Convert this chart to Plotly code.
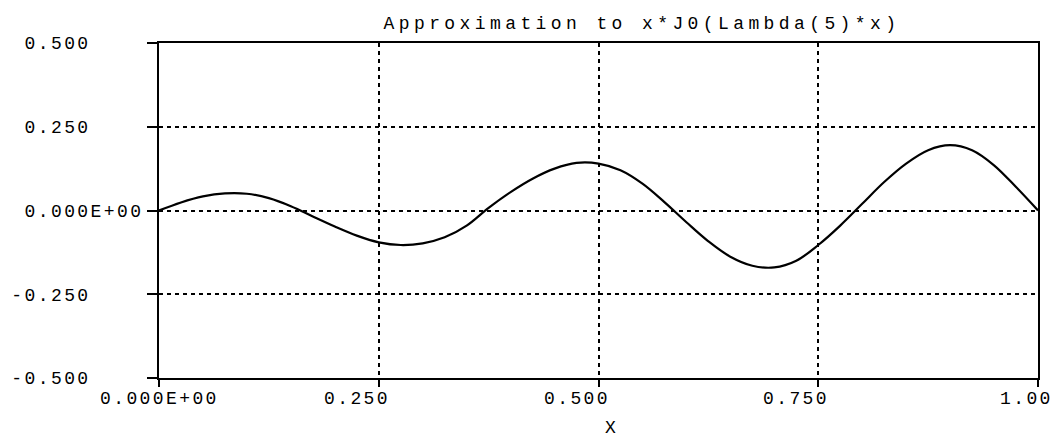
import plotly.graph_objects as go

NB = "\u00a0"

x_vals = [0, 0.025, 0.05, 0.075, 0.1, 0.125, 0.15, 0.175, 0.2, 0.225, 0.25,
          0.275, 0.3, 0.325, 0.35, 0.375, 0.4, 0.425, 0.45, 0.475, 0.5,
          0.525, 0.55, 0.575, 0.6, 0.625, 0.65, 0.675, 0.7, 0.725, 0.75,
          0.775, 0.8, 0.825, 0.85, 0.875, 0.9, 0.925, 0.95, 0.975, 1.0]
y_vals = [0, 0.024, 0.042, 0.051, 0.050, 0.037, 0.013, -0.018, -0.048, -0.075, -0.095,
          -0.103, -0.098, -0.080, -0.045, 0.008, 0.055, 0.095, 0.125, 0.142, 0.140,
          0.120, 0.080, 0.025, -0.035, -0.092, -0.138, -0.165, -0.170, -0.150, -0.103,
          -0.045, 0.020, 0.085, 0.140, 0.180, 0.195, 0.180, 0.135, 0.070, 0.0]

x_ticks = [0, 0.25, 0.5, 0.75, 1.0]
x_tick_labels = ["0.000E+00", "0.250", "0.500", "0.750", "1.00"]
y_ticks = [-0.5, -0.25, 0, 0.25, 0.5]
y_tick_labels = ["-0.500", "-0.250", "0.000E+00", "0.250", "0.500"]
title_text = "Approximation to x*J0(Lambda(5)*x)"
x_title = "X"

FONT = "Liberation Mono"
FS = 18
LS = "letter-spacing:2.4px"


def spaced(s, ls=LS):
    return '<span style="%s">%s</span>' % (ls, s)


def pad_y(s):
    core = s.lstrip("-")
    return spaced(s + NB * (9 - len(core)))


fig = go.Figure()
fig.add_trace(go.Scatter(
    x=x_vals, y=y_vals, mode="lines",
    line=dict(color="black", width=2.2, shape="spline"),
    showlegend=False, hoverinfo="skip"))

axis_common = dict(
    showline=True, linecolor="black", linewidth=2, mirror=True,
    showgrid=True, gridcolor="black", gridwidth=1.6, griddash="4px,4px",
    ticks="outside", tickcolor="black", tickwidth=1.5,
    zeroline=False, automargin=False,
    tickfont=dict(family=FONT, size=FS, color="black"),
)

# x tick labels as annotations placed through the x axis scale
for val, lab in zip(x_ticks, x_tick_labels):
    if lab == "0.000E+00":
        anchor, shift = "center", 0
    elif lab == "1.00":
        anchor, shift = "left", -40
    else:
        anchor, shift = "left", -57
    fig.add_annotation(
        x=val, xref="x", y=0, yref="paper",
        text=spaced(lab), showarrow=False,
        xanchor=anchor, xshift=shift, yanchor="middle", yshift=-21,
        font=dict(family=FONT, size=FS, color="black"))

fig.update_layout(
    width=1055, height=438,
    margin=dict(l=159, r=17, t=43, b=60, autoexpand=False),
    paper_bgcolor="white", plot_bgcolor="white",
    title=dict(text=spaced(title_text, "letter-spacing:4.4px"),
               x=642 / 1055, xanchor="center", xref="container",
               y=1 - 23 / 438, yanchor="middle", automargin=False,
               font=dict(family=FONT, size=FS, color="black")),
    xaxis=dict(range=[0, 1], tickvals=x_ticks, showticklabels=False, ticklen=7,
               title=dict(text=spaced(NB + NB + x_title), standoff=37,
                          font=dict(family=FONT, size=FS, color="black")),
               **axis_common),
    yaxis=dict(range=[-0.5, 0.5], tickvals=y_ticks, ticklen=10,
               ticktext=[pad_y(t) for t in y_tick_labels],
               **axis_common),
)

fig.write_html("out.html")
